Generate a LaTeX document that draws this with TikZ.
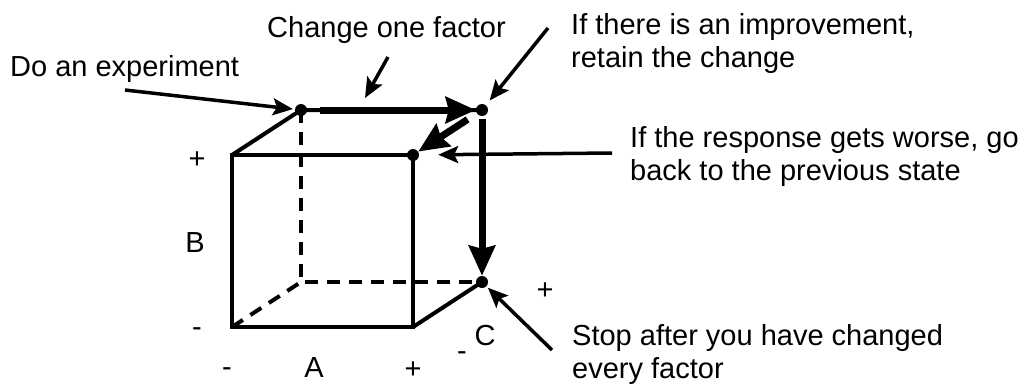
\documentclass[tikz,border=0pt]{standalone}
\usepackage{fontspec}
\setmainfont{Liberation Sans}
\usetikzlibrary{arrows.meta,calc}
\tikzset{
  edge/.style={line width=4pt},
  hidden/.style={edge, dash pattern=on 13pt off 9pt},
  dot/.style={circle, fill, inner sep=0pt, minimum size=12pt},
  move/.style={line width=7pt, -{Stealth[length=30pt, width=26pt, inset=3pt]}},
  note/.style={line width=3.5pt, -{Stealth[length=20pt, width=17pt, inset=4pt]}},
  txt/.style={font=\fontsize{29}{33}\selectfont, inner sep=0pt, align=left},
  lbl/.style={txt, anchor=base},
}

\begin{document}
\begin{tikzpicture}[x=1pt, y=-1pt]
    \useasboundingbox (0,0) rectangle (1025,383);
    \coordinate (ftl) at (232,155);
    \coordinate (ftr) at (413,155);
    \coordinate (fbl) at (232,327);
    \coordinate (fbr) at (413,327);
    \coordinate (btl) at ($(ftl)+(69,-45)$);
    \coordinate (btr) at ($(ftr)+(69,-45)$);
    \coordinate (bbl) at ($(fbl)+(69,-45)$);
    \coordinate (bbr) at ($(fbr)+(69,-45)$);
    \draw[hidden] (btl) -- (bbl) -- (bbr);
    \draw[hidden] (fbl) -- (bbl);
    \draw[edge] (ftl) rectangle (fbr);
    \draw[edge] (ftl) -- (btl) -- (btr);
    \draw[edge] (fbr) -- (bbr);
    \foreach \n/\c in {exp/btl, imp/btr, back/ftr, stop/bbr} \node[dot] (\n) at (\c) {};
    \draw[move, shorten <=13pt] (exp) -- (imp);
    \draw[move, shorten <=11pt] (imp) -- (back);
    \draw[move, shorten <=3pt] (imp) -- (stop);
    \node[txt, anchor=base west] (t-exp) at (10,76) {Do an experiment};
    \node[txt, anchor=base west] (t-chg) at (267,37) {Change one factor};
    \node[txt, anchor=north west] (t-imp) at (571,13) {If there is an improvement,\\retain the change};
    \node[txt, anchor=north west] (t-back) at (630,126) {If the response gets worse, go\\back to the previous state};
    \node[txt, anchor=north west] (t-stop) at (572,324) {Stop after you have changed\\every factor};
    \coordinate (a-exp) at (125,90);
    \coordinate (a-chg) at (388,57);
    \coordinate (a-chgend) at (365,98);
    \coordinate (a-imp) at (548,28);
    \coordinate (a-back) at (612,153);
    \coordinate (a-stop) at (552,350);
    \draw[note, shorten >=2pt] (a-exp) -- (exp);
    \draw[note] (a-chg) -- (a-chgend);
    \draw[note, shorten >=6pt] (a-imp) -- (imp);
    \draw[note, shorten >=19pt] (a-back) -- (back);
    \draw[note, shorten >=2pt] (a-stop) -- (stop);
    \foreach \n/\x/\y/\t in {b-hi/197/168/+, b/195/252/B, b-lo/197/336/-, a-lo/227/376/-, a/314/377/A, a-hi/413/378/+, c-lo/462/360/-, c/485/345/C, c-hi/545/299/+}
      \node[lbl] (\n) at (\x,\y) {\t};
\end{tikzpicture}
\end{document}
